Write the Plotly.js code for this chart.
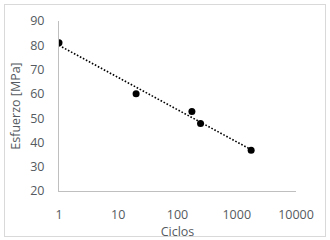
<!DOCTYPE html>
<html><head><meta charset="utf-8">
<script src="https://cdn.plot.ly/plotly-3.0.1.min.js"></script>
<style>html,body{margin:0;padding:0;background:#fff}
#wrap{position:relative;width:330px;height:240px}
#chart{width:330px;height:240px}
#frame{position:absolute;left:4px;top:4px;width:320px;height:231px;border:1px solid #d9d9d9;pointer-events:none}
</style></head>
<body><div id="wrap"><div id="chart"></div><div id="frame"></div></div>
<script>
const ciclos = [1, 20, 175, 245, 1750];
const esfuerzo = [81, 60, 52.7, 47.8, 36.8];
const xTicks = [1, 10, 100, 1000, 10000];
const xTickLabels = ['1', '10', '100', '1000', '10000'];

// Excel-style logarithmic trendline: y = a*ln(x) + b
const lx = ciclos.map(Math.log);
const n = lx.length;
const mx = lx.reduce((s,v)=>s+v,0)/n;
const my = esfuerzo.reduce((s,v)=>s+v,0)/n;
let sxy=0, sxx=0;
for (let i=0;i<n;i++){ sxy+=(lx[i]-mx)*(esfuerzo[i]-my); sxx+=(lx[i]-mx)**2; }
const a = sxy/sxx, b = my - a*mx;
const xmin = Math.min(...ciclos), xmax = Math.max(...ciclos);
const trendX = [], trendY = [];
for (let k=0;k<=50;k++){ const x = Math.exp(Math.log(xmin)+(Math.log(xmax)-Math.log(xmin))*k/50); trendX.push(x); trendY.push(a*Math.log(x)+b); }

const font = {family:'Open Sans, Liberation Sans, sans-serif', color:'#555a60', size:12.5};
const data = [
  {x:trendX, y:trendY, mode:'lines', line:{color:'#000', width:1.6, dash:'1.6px,1.8px'}, hoverinfo:'skip'},
  {x:ciclos, y:esfuerzo, mode:'markers', marker:{color:'#000', size:7}}
];
const layout = {
  width:330, height:240, showlegend:false,
  margin:{l:59, r:34, t:21, b:49},
  paper_bgcolor:'#fff', plot_bgcolor:'#fff', font:font,
  xaxis:{type:'log', range:[0,4], tickvals:xTicks, ticktext:xTickLabels, showgrid:false, zeroline:false,
    showline:true, linecolor:'#bfbfbf', linewidth:1, ticks:'', ticklabelstandoff:12,
    title:{text:'Ciclos', font:font, standoff:3}},
  yaxis:{range:[20,90], dtick:10, showgrid:false, zeroline:false, showline:true, linecolor:'#bfbfbf', linewidth:1,
    ticks:'', ticklabelstandoff:11, title:{text:'Esfuerzo [MPa]', font:font, standoff:6}}
};
Plotly.newPlot('chart', data, layout, {staticPlot:true, displayModeBar:false});
</script></body></html>
